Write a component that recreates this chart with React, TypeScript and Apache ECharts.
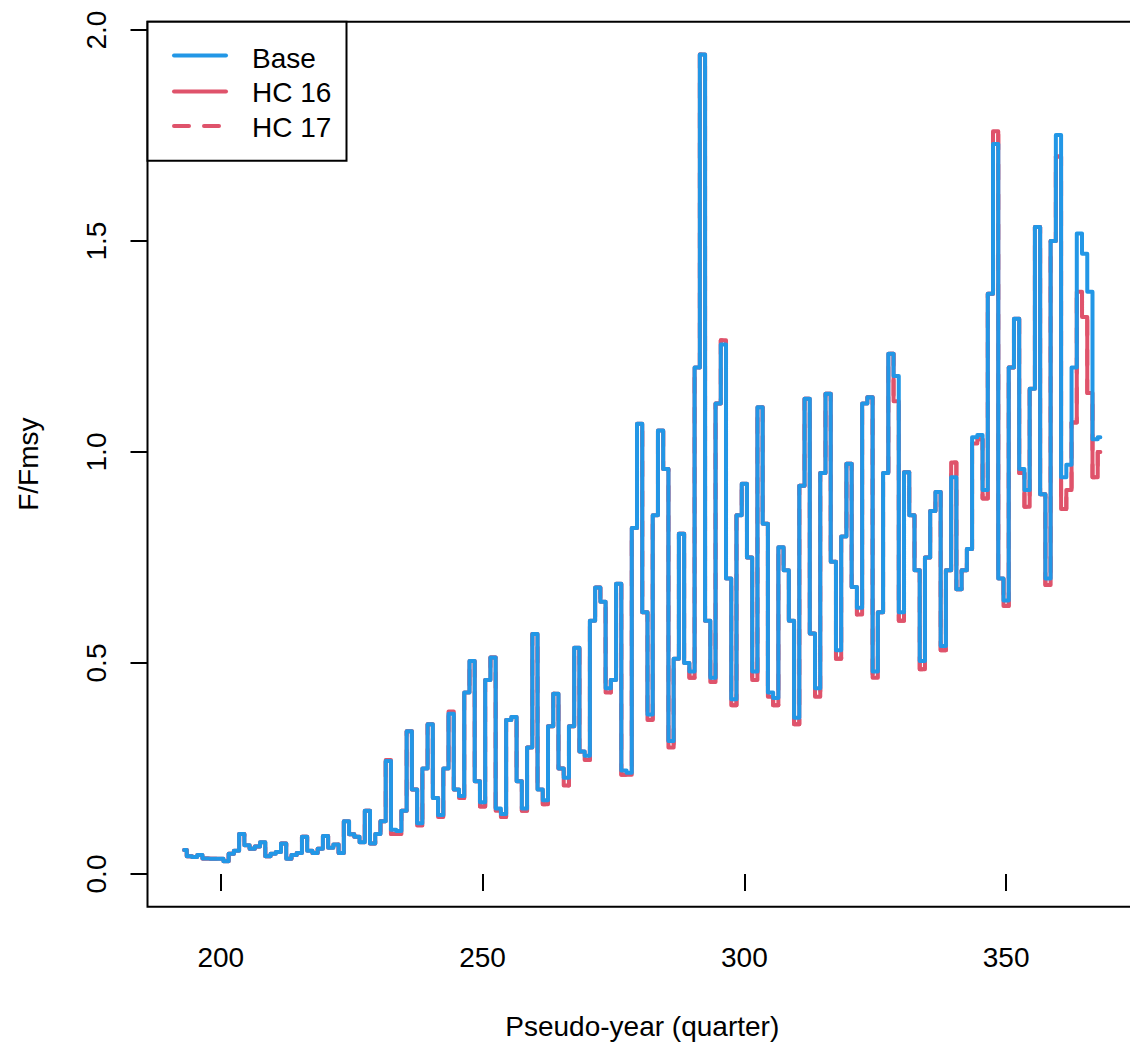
import { useEffect, useRef } from "react";
import * as echarts from "echarts";

const startYear = 193;

const base = [
  0.057, 0.042, 0.040, 0.045, 0.037, 0.036, 0.036, 0.036, 0.030, 0.048,
  0.055, 0.095, 0.068, 0.060, 0.065, 0.075, 0.042, 0.048, 0.052, 0.072,
  0.036, 0.045, 0.050, 0.088, 0.055, 0.050, 0.060, 0.090, 0.062, 0.070,
  0.050, 0.125, 0.094, 0.088, 0.075, 0.150, 0.072, 0.095, 0.125, 0.268,
  0.105, 0.102, 0.150, 0.338, 0.200, 0.120, 0.250, 0.355, 0.180, 0.140,
  0.250, 0.380, 0.200, 0.185, 0.430, 0.505, 0.220, 0.170, 0.460, 0.513,
  0.155, 0.142, 0.365, 0.372, 0.220, 0.155, 0.300, 0.569, 0.200, 0.175,
  0.350, 0.427, 0.250, 0.228, 0.350, 0.536, 0.290, 0.280, 0.600, 0.679,
  0.645, 0.440, 0.460, 0.688, 0.245, 0.240, 0.820, 1.067, 0.620, 0.378,
  0.850, 1.051, 0.960, 0.315, 0.510, 0.806, 0.500, 0.480, 1.200, 1.942,
  0.600, 0.465, 1.115, 1.255, 0.700, 0.414, 0.850, 0.925, 0.750, 0.480,
  1.106, 0.830, 0.430, 0.417, 0.774, 0.720, 0.600, 0.370, 0.920, 1.126,
  0.570, 0.440, 0.950, 1.138, 0.740, 0.530, 0.800, 0.972, 0.680, 0.631,
  1.115, 1.130, 0.480, 0.620, 0.950, 1.233, 1.180, 0.620, 0.952, 0.850,
  0.720, 0.505, 0.750, 0.860, 0.905, 0.540, 0.720, 0.940, 0.675, 0.720,
  0.770, 1.035, 1.040, 0.910, 1.375, 1.730, 0.700, 0.648, 1.200, 1.316,
  0.960, 0.910, 1.150, 1.533, 0.900, 0.700, 1.500, 1.751, 0.940, 0.970,
  1.200, 1.518, 1.470, 1.380, 1.030, 1.035,
];

const hc16 = [
  0.057, 0.042, 0.040, 0.045, 0.037, 0.036, 0.036, 0.036, 0.030, 0.048,
  0.055, 0.095, 0.068, 0.060, 0.065, 0.075, 0.042, 0.048, 0.052, 0.072,
  0.036, 0.045, 0.050, 0.088, 0.055, 0.050, 0.060, 0.090, 0.062, 0.070,
  0.050, 0.125, 0.094, 0.088, 0.075, 0.150, 0.072, 0.095, 0.125, 0.270,
  0.095, 0.095, 0.150, 0.338, 0.200, 0.115, 0.250, 0.355, 0.180, 0.135,
  0.250, 0.385, 0.200, 0.180, 0.430, 0.505, 0.220, 0.160, 0.460, 0.513,
  0.150, 0.135, 0.365, 0.372, 0.220, 0.150, 0.300, 0.569, 0.200, 0.165,
  0.350, 0.427, 0.250, 0.210, 0.350, 0.536, 0.290, 0.270, 0.600, 0.679,
  0.645, 0.430, 0.460, 0.688, 0.235, 0.235, 0.820, 1.067, 0.620, 0.365,
  0.850, 1.051, 0.960, 0.300, 0.510, 0.806, 0.500, 0.465, 1.200, 1.942,
  0.600, 0.455, 1.115, 1.265, 0.700, 0.400, 0.850, 0.925, 0.750, 0.460,
  1.106, 0.830, 0.420, 0.400, 0.774, 0.720, 0.600, 0.355, 0.920, 1.126,
  0.570, 0.420, 0.950, 1.138, 0.740, 0.510, 0.800, 0.972, 0.680, 0.615,
  1.115, 1.130, 0.465, 0.620, 0.950, 1.233, 1.120, 0.600, 0.952, 0.850,
  0.720, 0.485, 0.750, 0.860, 0.905, 0.530, 0.720, 0.975, 0.675, 0.720,
  0.770, 1.020, 1.030, 0.890, 1.375, 1.760, 0.700, 0.635, 1.200, 1.316,
  0.950, 0.870, 1.150, 1.533, 0.900, 0.685, 1.500, 1.700, 0.865, 0.910,
  1.070, 1.380, 1.320, 1.140, 0.940, 1.000,
];

const hc17 = [
  0.057, 0.042, 0.040, 0.045, 0.037, 0.036, 0.036, 0.036, 0.030, 0.048,
  0.055, 0.095, 0.068, 0.060, 0.065, 0.075, 0.042, 0.048, 0.052, 0.072,
  0.036, 0.045, 0.050, 0.088, 0.055, 0.050, 0.060, 0.090, 0.062, 0.070,
  0.050, 0.125, 0.094, 0.088, 0.075, 0.150, 0.072, 0.095, 0.125, 0.270,
  0.095, 0.095, 0.150, 0.338, 0.200, 0.115, 0.250, 0.355, 0.180, 0.135,
  0.250, 0.385, 0.200, 0.180, 0.430, 0.505, 0.220, 0.160, 0.460, 0.513,
  0.150, 0.135, 0.365, 0.372, 0.220, 0.150, 0.300, 0.569, 0.200, 0.165,
  0.350, 0.427, 0.250, 0.210, 0.350, 0.536, 0.290, 0.270, 0.600, 0.679,
  0.645, 0.430, 0.460, 0.688, 0.235, 0.235, 0.820, 1.067, 0.620, 0.365,
  0.850, 1.051, 0.960, 0.300, 0.510, 0.806, 0.500, 0.465, 1.200, 1.942,
  0.600, 0.455, 1.115, 1.265, 0.700, 0.400, 0.850, 0.925, 0.750, 0.460,
  1.106, 0.830, 0.420, 0.400, 0.774, 0.720, 0.600, 0.355, 0.920, 1.126,
  0.570, 0.420, 0.950, 1.138, 0.740, 0.510, 0.800, 0.972, 0.680, 0.615,
  1.115, 1.130, 0.465, 0.620, 0.950, 1.233, 1.120, 0.600, 0.952, 0.850,
  0.720, 0.485, 0.750, 0.860, 0.905, 0.530, 0.720, 0.975, 0.675, 0.720,
  0.770, 1.020, 1.030, 0.890, 1.375, 1.760, 0.700, 0.635, 1.200, 1.316,
  0.950, 0.870, 1.150, 1.533, 0.900, 0.685, 1.500, 1.700, 0.865, 0.910,
  1.070, 1.380, 1.320, 1.140, 0.940, 1.000,
];

const xTicks = [200, 250, 300, 350];
const yTicks = [0, 0.5, 1, 1.5, 2];
const seriesNames = ["Base", "HC 16", "HC 17"];
const xTitle = "Pseudo-year (quarter)";
const yTitle = "F/Fmsy";

const BLUE = "#2297E6";
const RED = "#DF536B";
const FONT = "'Liberation Sans', Arial, Helvetica, sans-serif";

function toPairs(vals: number[]) {
  return vals.map((v, i) => [startYear + i, v]);
}

export default function App() {
  const ref = useRef<HTMLDivElement>(null);

  useEffect(() => {
    if (!ref.current) return;
    const chart = echarts.init(ref.current, null, { renderer: "svg" });

    const lineSeries = (name: string, vals: number[], color: string, dashed: boolean) => ({
      name,
      type: "line",
      data: toPairs(vals),
      step: "middle",
      showSymbol: false,
      symbol: "none",
      silent: true,
      lineStyle: {
        color,
        width: 4,
        type: dashed ? [15, 15] : "solid",
        cap: "round",
        join: "round",
      },
      itemStyle: { color },
    });

    const legendX = 147.5;
    const legendY = 21.7;
    const legendRows = [
      { name: seriesNames[0], color: BLUE, dash: null as null | number[], ly: 55.5, ty: 58.5 },
      { name: seriesNames[1], color: RED, dash: null as null | number[], ly: 91.5, ty: 92.5 },
      { name: seriesNames[2], color: RED, dash: [15, 15], ly: 126, ty: 127.5 },
    ];

    const legendChildren: any[] = [
      {
        type: "rect",
        shape: { x: legendX, y: legendY, width: 199, height: 139 },
        style: { fill: "#fff", stroke: "#000", lineWidth: 2 },
        z: 100,
      },
    ];
    legendRows.forEach((r) => {
      legendChildren.push({
        type: "line",
        shape: { x1: 174, y1: r.ly, x2: 226, y2: r.ly },
        style: {
          stroke: r.color,
          lineWidth: 4,
          lineDash: r.dash || undefined,
          lineCap: "round",
        },
        z: 101,
      });
      legendChildren.push({
        type: "text",
        x: 252,
        y: r.ty,
        style: {
          text: r.name,
          fill: "#000",
          font: `28px ${FONT}`,
          textAlign: "left",
          textVerticalAlign: "middle",
        },
        z: 101,
      });
    });

    chart.setOption({
      animation: false,
      backgroundColor: "#fff",
      textStyle: { fontFamily: FONT },
      grid: {
        left: 147.5,
        top: 21.7,
        right: -7,
        bottom: 143.3,
        outerBoundsMode: "none",
        containLabel: false,
        show: true,
        borderColor: "#000",
        borderWidth: 2,
        backgroundColor: "transparent",
      },
      xAxis: {
        type: "value",
        min: 186,
        max: 375,
        name: xTitle,
        nameLocation: "middle",
        nameGap: 106,
        nameTextStyle: { fontSize: 28, color: "#000", fontFamily: FONT },
        axisLine: { show: false },
        splitLine: { show: false },
        axisTick: {
          show: true,
          length: 17,
          customValues: xTicks,
          lineStyle: { color: "#000", width: 2 },
        },
        axisLabel: {
          customValues: xTicks,
          fontSize: 28,
          color: "#000",
          fontFamily: FONT,
          margin: 37,
          formatter: (v: number) => String(v),
        },
      },
      yAxis: {
        type: "value",
        min: -0.0775,
        max: 2.0197,
        name: yTitle,
        nameLocation: "middle",
        nameGap: 105,
        nameRotate: 90,
        nameTextStyle: { fontSize: 28, color: "#000", fontFamily: FONT },
        axisLine: { show: false },
        splitLine: { show: false },
        axisTick: {
          show: true,
          length: 17,
          customValues: yTicks,
          lineStyle: { color: "#000", width: 2 },
        },
        axisLabel: {
          customValues: yTicks,
          rotate: 90,
          fontSize: 28,
          color: "#000",
          fontFamily: FONT,
          margin: 37,
          formatter: (v: number) => v.toFixed(1),
        },
      },
      series: [
        lineSeries(seriesNames[1], hc16, RED, false),
        lineSeries(seriesNames[2], hc17, RED, true),
        lineSeries(seriesNames[0], base, BLUE, false),
      ],
      graphic: [{ type: "group", children: legendChildren }],
    });

    return () => chart.dispose();
  }, []);

  return (
    <div
      ref={ref}
      style={{ position: "fixed", left: 0, top: 0, width: 1130, height: 1050, overflow: "hidden", background: "#fff" }}
    />
  );
}
